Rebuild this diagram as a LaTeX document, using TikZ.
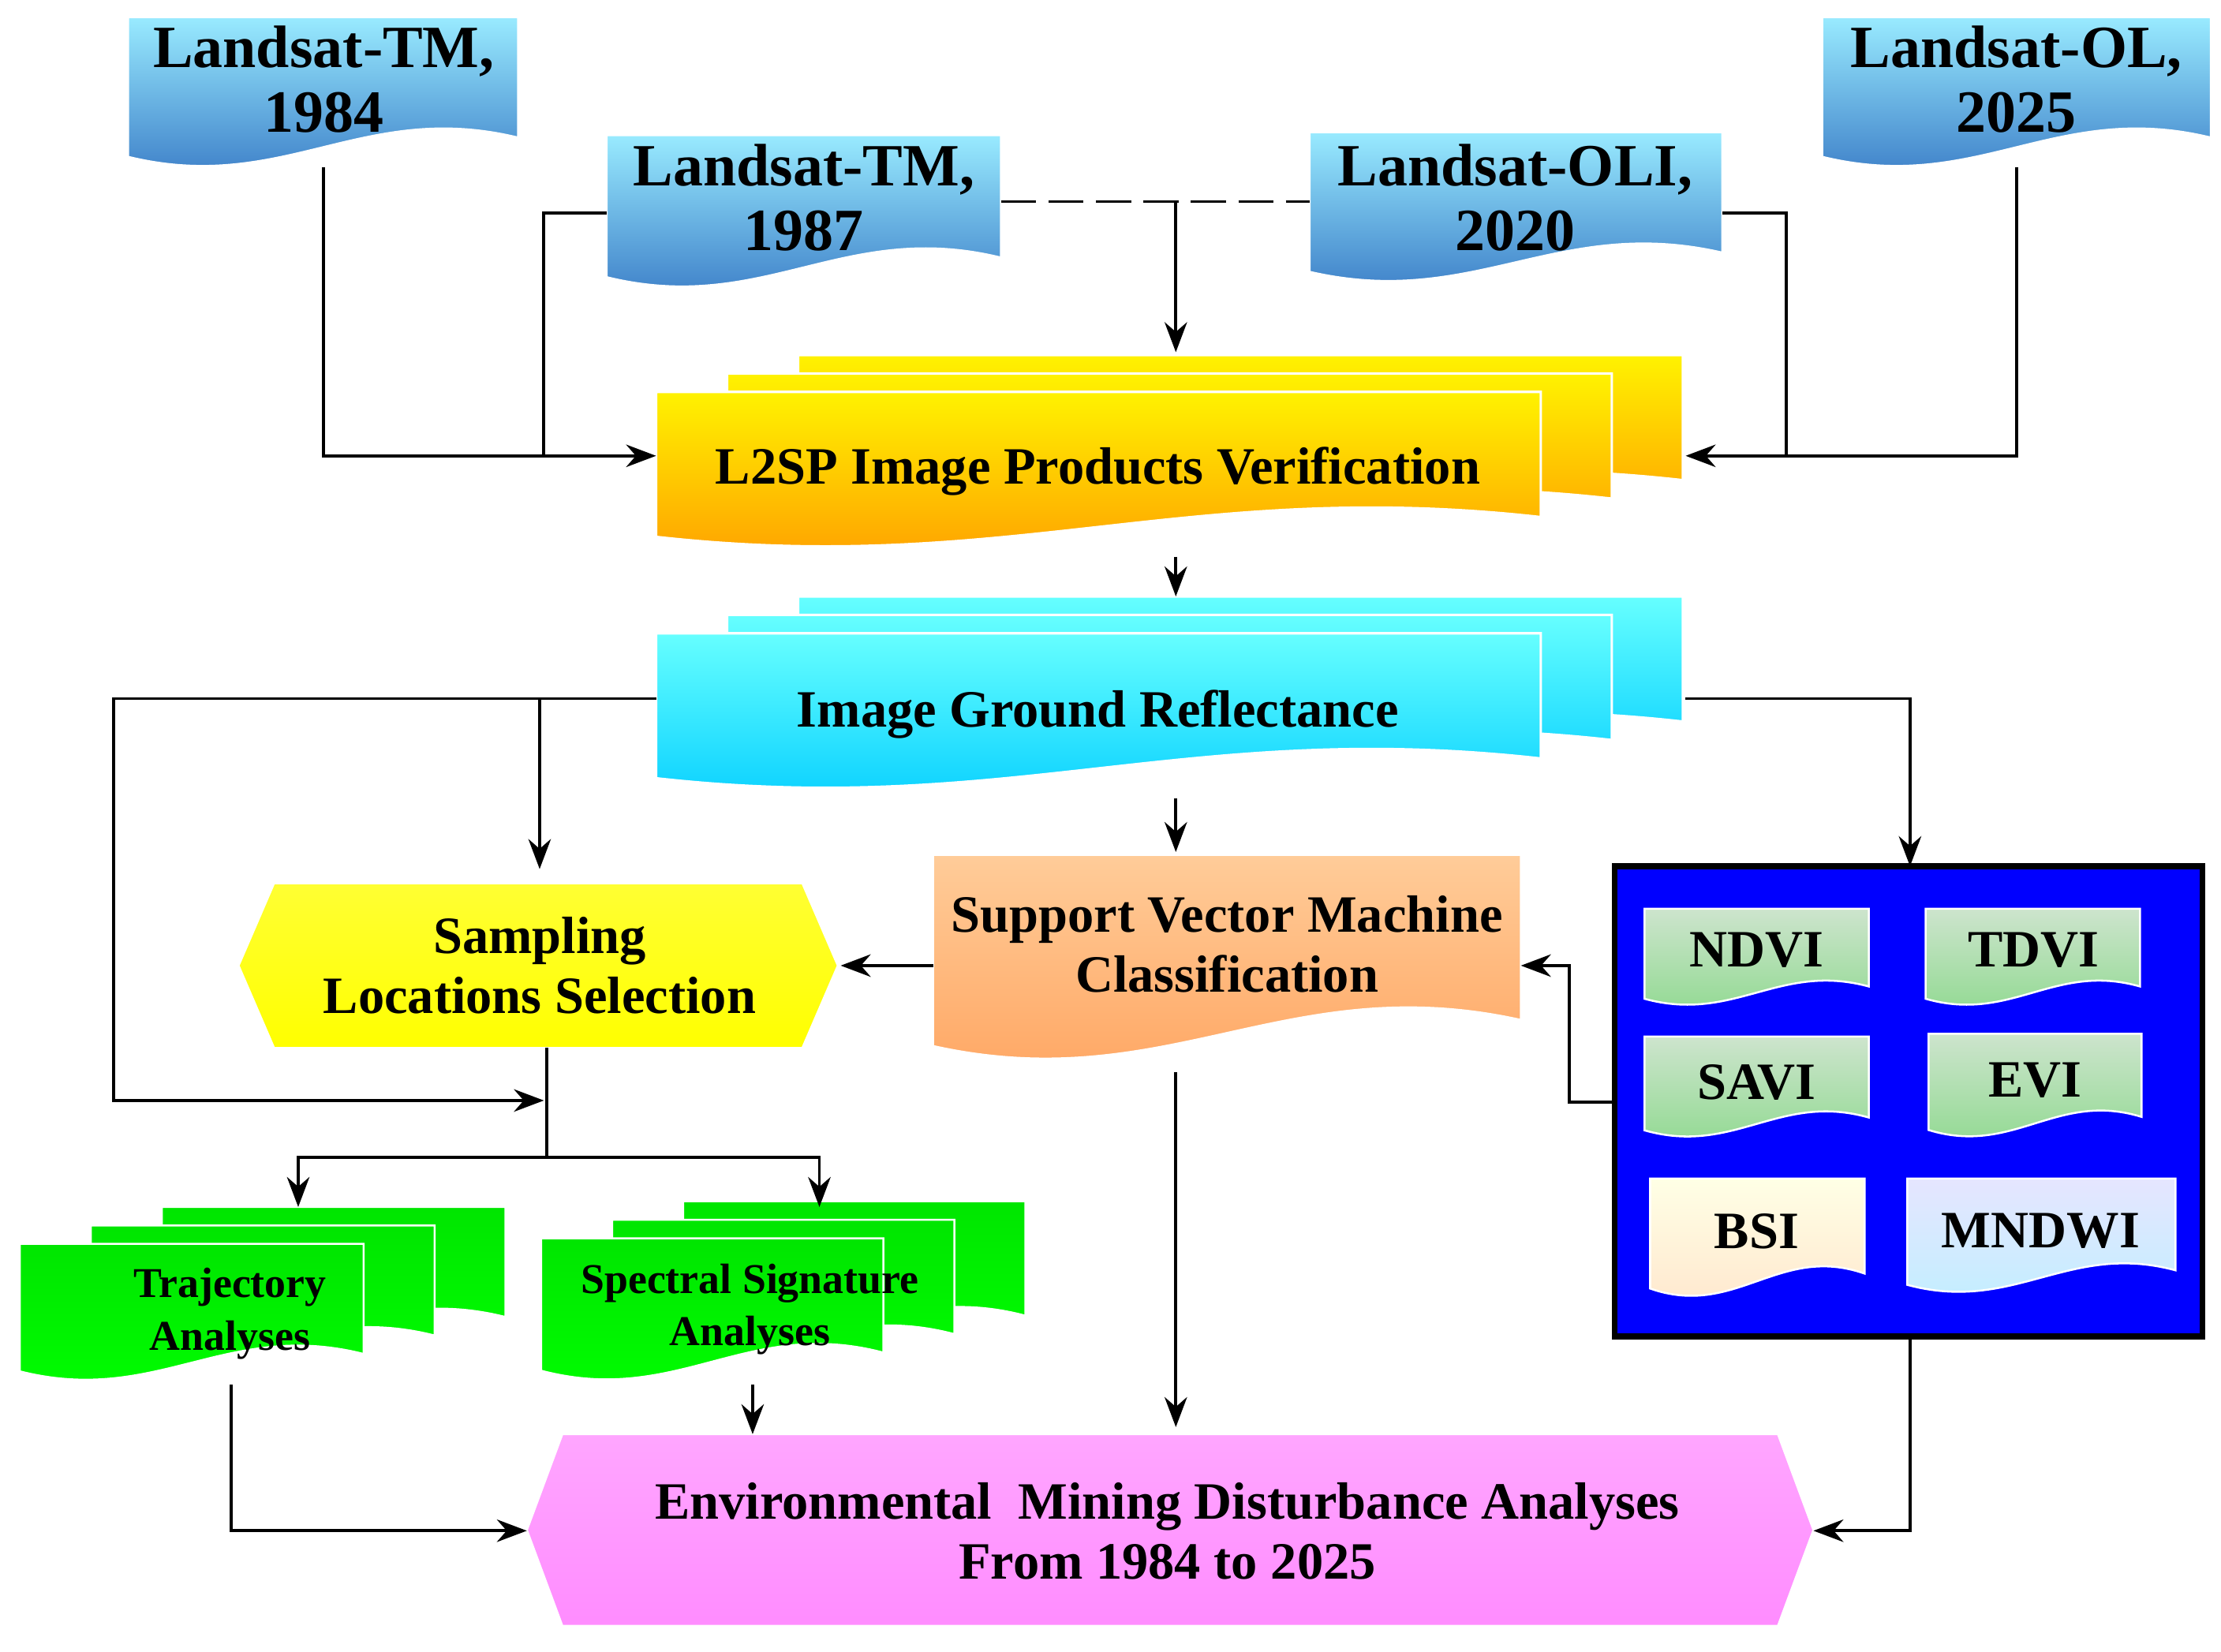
\documentclass[tikz,border=0pt]{standalone}
\usepackage{fontspec}
\setmainfont{Liberation Serif}
\usetikzlibrary{arrows.meta}
\newcommand\wdoc[5]{%
 \pgfmathsetmacro\xa{#1}\pgfmathsetmacro\ya{#2}\pgfmathsetmacro\xb{#3}\pgfmathsetmacro\yb{#4}%
 \pgfmathsetmacro\ww{\xb-\xa}\pgfmathsetmacro\hh{(\yb-\ya)*0.12}%
 \path[#5] (\xa,-\ya) -- (\xb,-\ya) -- (\xb,{-\yb+2*\hh}) .. controls ({\xa+0.6*\ww},{-\yb+4*\hh}) and ({\xa+0.4*\ww},{-\yb-1*\hh}) .. (\xa,{-\yb+\hh}) -- cycle;}
\newcommand\mdoc[5]{%
 \wdoc{#1+100}{#2-26}{#3+100}{#4-26}{#5}\wdoc{#1+50}{#2-13}{#3+50}{#4-13}{#5}\wdoc{#1}{#2}{#3}{#4}{#5}}
\newcommand\hexa[5]{%
 \path[#5] (#1,{-(#2+#4)/2}) -- ({#1+25},-#2) -- ({#3-25},-#2) -- (#3,{-(#2+#4)/2}) -- ({#3-25},-#4) -- ({#1+25},-#4) -- cycle;}
\tikzset{
 x=0.01cm,y=0.01cm,
 lbl/.style={font=\bfseries, align=center, inner sep=0pt},
 big/.style={lbl,font=\fontsize{12}{13}\selectfont\bfseries},
 mid/.style={lbl,font=\fontsize{10.5}{12}\selectfont\bfseries},
 sml/.style={lbl,font=\fontsize{8.5}{10.5}\selectfont\bfseries},
 ar/.style={-{Stealth[length=6pt,width=4.5pt]}, line width=0.6pt},
 ln/.style={line width=0.6pt},
 sat/.style={top color=blue!20!cyan!40!white, bottom color=blue!55!cyan!70!black!80, draw=white, line width=0.5pt},
 l2/.style={top color=yellow!90!orange, bottom color=orange!80!yellow, draw=white, line width=0.5pt},
 igr/.style={top color=cyan!60, bottom color=cyan!80!blue, draw=white, line width=0.5pt},
 svm/.style={top color=orange!40!white, bottom color=orange!60!pink!90!white, draw=white},
 grn/.style={top color=green!90!black, bottom color=green, draw=white},
 idx/.style={top color=green!30!gray!30!white, bottom color=green!50!gray!60!white, draw=white},
}
\begin{document}
\begin{tikzpicture}
\useasboundingbox (0,0) rectangle (1564,-1163);
% Landsat docs
\wdoc{90}{12}{365}{124}{sat}
\wdoc{427}{95}{705}{209}{sat}
\wdoc{922}{93}{1213}{205}{sat}
\wdoc{1283}{12}{1557}{124}{sat}
\node[big] (tm84) at (228,-56) {Landsat-TM,\\1984};
\node[big] (tm87) at (566,-139) {Landsat-TM,\\1987};
\node[big] (oli) at (1067,-139) {Landsat-OLI,\\2020};
\node[big] (ol25) at (1420,-56) {Landsat-OL,\\2025};
% L2SP
\mdoc{462}{276}{1085}{392}{l2}
\node[mid] (l2sp) at (773,-332) {L2SP Image Products Verification};
% IGR
\mdoc{462}{446}{1085}{562}{igr}
\node[mid] (igr) at (773,-503) {Image Ground Reflectance};
% SVM
\wdoc{657}{602}{1071}{755}{svm}
\node[mid] (svm) at (864,-665) {Support Vector Machine\\Classification};
% Sampling
\hexa{168}{622}{590}{738}{top color=yellow!80!white, bottom color=yellow, draw=white}
\node[mid] (samp) at (380,-680) {Sampling\\Locations Selection};
% Trajectory, Spectral
\mdoc{14}{876}{256}{978}{grn}
\node[sml] (traj) at (162,-925) {Trajectory\\Analyses};
\mdoc{381}{872}{622}{978}{grn}
\node[sml] (spec) at (528,-922) {Spectral Signature\\Analyses};
% Environmental
\hexa{371}{1010}{1277}{1145}{top color=magenta!35!white, bottom color=magenta!45!white, draw=white}
\node[mid] (env) at (822,-1078) {Environmental\ \ Mining Disturbance Analyses\\From 1984 to 2025};
% Blue box
\draw[fill=blue, line width=1.2pt] (1137,-610) rectangle (1551,-941);
\coordinate (boxtop) at (1345,-610);
\coordinate (boxleft) at (1137,-776);
\coordinate (boxbot) at (1345,-941);
\wdoc{1158}{640}{1316}{712}{idx}\node[mid] (ndvi) at (1237,-669) {NDVI};
\wdoc{1356}{640}{1507}{712}{idx}\node[mid] (tdvi) at (1432,-669) {TDVI};
\wdoc{1158}{730}{1316}{805}{idx}\node[mid] (savi) at (1237,-762) {SAVI};
\wdoc{1358}{728}{1508}{805}{idx}\node[mid] (evi) at (1433,-761) {EVI};
\wdoc{1162}{830}{1313}{918}{top color=yellow!10!white, bottom color=orange!20!white, draw=white}\node[mid] (bsi) at (1237,-867) {BSI};
\wdoc{1343}{830}{1532}{915}{top color=blue!10!white, bottom color=blue!25!cyan!25!white, draw=white}\node[mid] (mndwi) at (1437,-867) {MNDWI};
% connectors
\coordinate (a84) at (228,-118);
\coordinate (j1) at (228,-321);
\coordinate (l2l) at (462,-321);
\coordinate (a87) at (427,-150);
\coordinate (k1) at (383,-150);
\coordinate (k2) at (383,-321);
\coordinate (aoli) at (1213,-150);
\coordinate (m1) at (1258,-150);
\coordinate (m2) at (1258,-321);
\coordinate (a25) at (1420,-118);
\coordinate (l2r) at (1187,-321);
\coordinate (d1) at (705,-142);
\coordinate (d2) at (922,-142);
\coordinate (dm) at (828,-142);
\coordinate (l2t) at (828,-248);
\draw[ln, dash pattern=on 7pt off 2.5pt] (d1) -- (d2);
\draw[ar] (dm) -- (l2t);
\draw[ar] (a84) -- (j1) -- (l2l);
\draw[ln] (a87) -- (k1) -- (k2);
\draw[ln] (aoli) -- (m1) -- (m2);
\draw[ar] (a25) |- (l2r);
\coordinate (l2b) at (828,-392);
\coordinate (igt) at (828,-420);
\draw[ar] (l2b) -- (igt);
\coordinate (igl) at (462,-492);
\coordinate (igr2) at (1187,-492);
\coordinate (n1) at (80,-492);
\coordinate (n2) at (80,-775);
\coordinate (n3) at (383,-775);
\coordinate (b1) at (380,-492);
\coordinate (b2) at (380,-612);
\draw[ar] (igl) -- (n1) -- (n2) -- (n3);
\draw[ar] (b1) -- (b2);
\draw[ar] (igr2) -| (boxtop);
\coordinate (igb) at (828,-562);
\coordinate (svt) at (828,-600);
\draw[ar] (igb) -- (svt);
\coordinate (svl) at (657,-680);
\coordinate (sar) at (592,-680);
\draw[ar] (svl) -- (sar);
\coordinate (sb) at (385,-738);
\coordinate (sj) at (385,-815);
\coordinate (t1) at (210,-850);
\coordinate (t2) at (577,-850);
\draw[ln] (sb) -- (sj);
\draw[ar] (sj) -| (t1);
\draw[ar] (sj) -| (t2);
\coordinate (trb) at (163,-975);
\coordinate (envl) at (371,-1078);
\draw[ar] (trb) |- (envl);
\coordinate (spb) at (530,-975);
\coordinate (spe) at (530,-1010);
\draw[ar] (spb) -- (spe);
\coordinate (svb) at (828,-755);
\coordinate (sve) at (828,-1005);
\draw[ar] (svb) -- (sve);
\coordinate (p1) at (1105,-776);
\coordinate (p2) at (1105,-680);
\coordinate (svr) at (1071,-680);
\draw[ar] (boxleft) -- (p1) -- (p2) -- (svr);
\coordinate (envr) at (1277,-1078);
\draw[ar] (boxbot) |- (envr);
\end{tikzpicture}
\end{document}
